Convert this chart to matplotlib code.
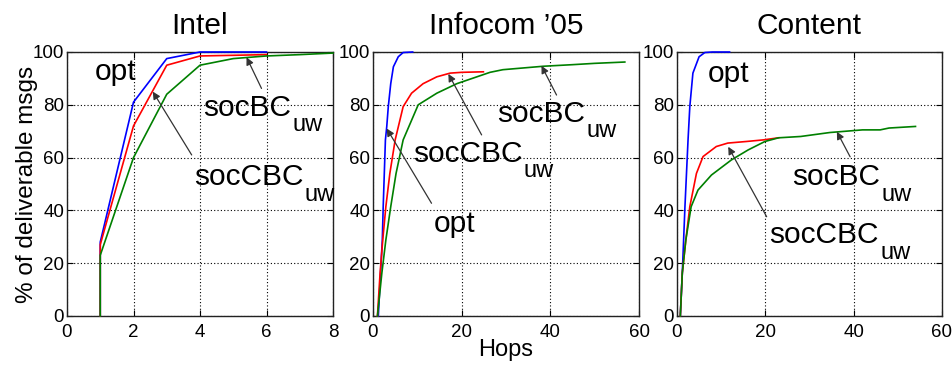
import matplotlib
matplotlib.use("Agg")
import matplotlib.pyplot as plt

plt.rcParams['font.family'] = ['Liberation Sans', 'DejaVu Sans']

titles = ["Intel", "Infocom \u201905", "Content"]
xlims = [(0, 8), (0, 60), (0, 60)]
xticks = [[0, 2, 4, 6, 8], [0, 20, 40, 60], [0, 20, 40, 60]]
yticks = [0, 20, 40, 60, 80, 100]

# Intel
intel_opt_x = [1, 1, 2, 3, 4, 6]
intel_opt_y = [0, 28, 81, 97.5, 100, 100]
intel_cbc_x = [1, 1, 2, 3, 4, 6]
intel_cbc_y = [0, 27, 72, 95, 98.5, 99]
intel_bc_x = [1, 1, 2, 3, 4, 5, 6, 7, 8]
intel_bc_y = [0, 23, 60, 84, 95, 97.5, 98.5, 99, 99.6]

# Infocom '05
info_opt_x = [1.2, 1.7, 2.1, 2.3, 2.55, 2.8, 3.1, 3.45, 4.0, 4.6, 5.7, 6.8, 8.95]
info_opt_y = [0, 16.3, 28.8, 41.4, 54, 66.7, 71.7, 79.3, 88, 94.4, 98.2, 99.8, 100]
info_cbc_x = [1.0, 1.6, 2.2, 2.9, 3.8, 5.0, 6.8, 8.7, 11.3, 14.4, 17.4, 20, 24.9]
info_cbc_y = [0, 16.3, 28.8, 41.4, 54, 66.7, 79.3, 84.4, 88, 90.6, 92, 92.3, 92.5]
info_bc_x = [1.0, 2.0, 2.9, 4.0, 5.2, 6.8, 10.2, 14.4, 18.9, 26.4, 29.3, 38.4, 45, 50, 56.8]
info_bc_y = [0, 16.3, 28.8, 41.4, 54, 66.7, 80, 84.4, 88, 92.3, 93.3, 94.6, 95.2, 95.7, 96.2]

# Content
cont_opt_x = [0.75, 1.2, 1.8, 2.5, 2.9, 3.6, 5.0, 6.3, 8, 11.9]
cont_opt_y = [0, 16.3, 41.4, 66.7, 79.3, 92, 98.2, 99.8, 100, 100]
cont_cbc_x = [0.75, 1.2, 2.0, 2.9, 4.4, 5.9, 8.9, 11.5, 15.7, 19.5, 23]
cont_cbc_y = [0, 16.3, 28.8, 41.4, 54, 60.4, 64.2, 65.5, 66.1, 66.7, 67.5]
cont_bc_x = [0.75, 1.2, 2.0, 3.2, 4.75, 7.8, 12.3, 16.1, 19.9, 23, 28, 34.6, 42, 46, 48, 54]
cont_bc_y = [0, 16.3, 28.8, 41.4, 47.7, 53.4, 59.1, 62.9, 66.1, 67.5, 68, 69.5, 70.5, 70.5, 71.2, 71.8]

series = [
    [(intel_opt_x, intel_opt_y), (intel_cbc_x, intel_cbc_y), (intel_bc_x, intel_bc_y)],
    [(info_opt_x, info_opt_y), (info_cbc_x, info_cbc_y), (info_bc_x, info_bc_y)],
    [(cont_opt_x, cont_opt_y), (cont_cbc_x, cont_cbc_y), (cont_bc_x, cont_bc_y)],
]
colors = ['#0000ff', '#ff0000', '#008000']

# labels: (main, sub, x, y)
labels = [
    [("opt", "", 0.84, 89.4), ("socBC", "uw", 4.09, 75.8), ("socCBC", "uw", 3.82, 49.6)],
    [("opt", "", 13.6, 31.9), ("socBC", "uw", 27.9, 73.6), ("socCBC", "uw", 8.95, 58.4)],
    [("opt", "", 6.86, 88.7), ("socBC", "uw", 26.0, 49.6), ("socCBC", "uw", 20.9, 27.5)],
]
# arrows: (tail x, tail y, head x, head y)
arrows = [
    [(5.85, 86.2, 5.4, 98.0), (3.75, 61.0, 2.58, 85.0)],
    [(41.4, 83.7, 38.0, 94.8), (24.5, 68.6, 17.0, 91.7), (13.2, 42.7, 3.1, 71.0)],
    [(39.2, 60.3, 36.2, 69.8), (20.3, 37.6, 11.6, 64.1)],
]

fig = plt.figure(figsize=(9.53, 3.65), dpi=100)
lefts = [67, 373, 677]
widths = [266, 266, 265]
W, H = 953, 365
top_px, bot_px = 52, 316

for i in range(3):
    ax = fig.add_axes([lefts[i] / W, (H - bot_px) / H, widths[i] / W, (bot_px - top_px) / H])
    for (xs, ys), c in zip(series[i], colors):
        ax.plot(xs, ys, color=c, lw=1.2, clip_on=False, zorder=3)
    ax.set_xlim(*xlims[i])
    ax.set_ylim(0, 100)
    ax.set_xticks(xticks[i])
    ax.set_yticks(yticks)
    ax.grid(True, color='k', linestyle=(0, (1, 2)), lw=0.8)
    ax.tick_params(direction='in', length=4, top=True, right=True, labelsize=13.5)
    ax.tick_params(axis='x', pad=6)
    ax.tick_params(axis='y', pad=2)
    for s in ax.spines.values():
        s.set_linewidth(1.0)
        s.set_color('#222222')
    ax.set_title(titles[i], fontsize=21.5, pad=13)
    for main, sub, x, y in labels[i]:
        t = ax.text(x, y, main, fontsize=21.5, va='baseline', ha='left', zorder=5)
        if sub:
            ax.annotate(sub, xy=(1, 0), xycoords=t, xytext=(1, -6.8),
                        textcoords='offset points', fontsize=17, va='baseline', ha='left')
    for tx, ty, hx, hy in arrows[i]:
        ax.annotate('', xy=(hx, hy), xytext=(tx, ty),
                    arrowprops=dict(arrowstyle='-|>', color='#333333', lw=0.9,
                                    mutation_scale=11, shrinkA=0, shrinkB=0), zorder=4)
    if i == 0:
        ax.set_ylabel('% of deliverable msgs', fontsize=17.5, labelpad=-4)
    if i == 1:
        ax.set_xlabel('Hops', fontsize=17, labelpad=-2)

fig.savefig('out.png', dpi=100)
